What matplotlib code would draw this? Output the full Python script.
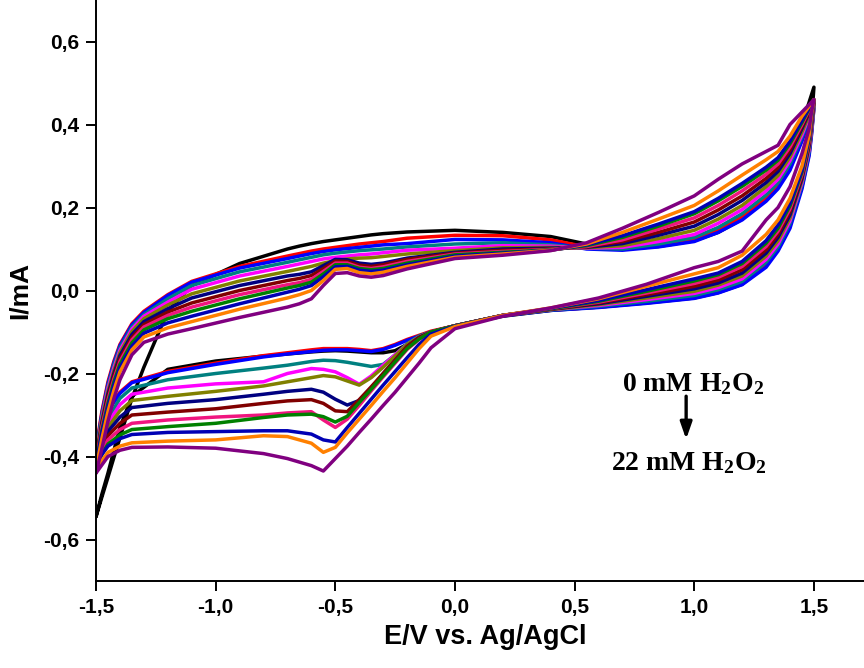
import matplotlib
matplotlib.use("Agg")
import matplotlib.pyplot as plt
from matplotlib.ticker import FixedLocator, FixedFormatter

plt.rcParams['mathtext.fontset'] = 'custom'
plt.rcParams['mathtext.rm'] = 'Liberation Serif:bold'
plt.rcParams['mathtext.it'] = 'Liberation Serif:bold'
plt.rcParams['mathtext.bf'] = 'Liberation Serif:bold'

# Potential grids (V) for the forward (anodic) and reverse (cathodic) sweeps
E_fwd = [-1.5, -1.475, -1.45, -1.425, -1.4, -1.35, -1.3, -1.2, -1.1, -0.9,
         -0.7, -0.65, -0.6, -0.55, -0.5, -0.45, -0.4, -0.35, -0.3, -0.2,
         0.0, 0.2, 0.4, 0.55, 0.7, 0.85, 1.0, 1.1, 1.2, 1.3,
         1.35, 1.4, 1.45, 1.5]
E_rev = [1.5, 1.49, 1.48, 1.45, 1.4, 1.35, 1.3, 1.2, 1.1, 1.0,
         0.8, 0.6, 0.4, 0.2, 0.0, -0.1, -0.15, -0.2, -0.25, -0.3,
         -0.35, -0.4, -0.45, -0.5, -0.55, -0.6, -0.7, -0.8, -1.0, -1.2,
         -1.35, -1.4, -1.45, -1.475, -1.5]

# Currents (mA), 0 mM ... 22 mM H2O2
black_fwd = [-0.545, -0.497, -0.45, -0.402, -0.355, -0.26, -0.185, -0.05, 0.012, 0.065,
             0.1, 0.107, 0.113, 0.118, 0.122, 0.126, 0.13, 0.134, 0.137, 0.141,
             0.145, 0.14, 0.13, 0.112, 0.1, 0.106, 0.12, 0.14, 0.172, 0.225,
             0.265, 0.32, 0.4, 0.49]
black_rev = [0.49, 0.41, 0.35, 0.26, 0.165, 0.1, 0.06, 0.015, -0.005, -0.018,
             -0.03, -0.04, -0.048, -0.062, -0.085, -0.1, -0.11, -0.13, -0.145, -0.15,
             -0.15, -0.148, -0.146, -0.145, -0.146, -0.148, -0.153, -0.158, -0.17, -0.19,
             -0.255, -0.33, -0.44, -0.49, -0.545]

red_fwd = [-0.38, -0.29, -0.22, -0.17, -0.13, -0.08, -0.05, -0.01, 0.022, 0.058,
           0.083, 0.089, 0.095, 0.1, 0.104, 0.108, 0.112, 0.115, 0.118, 0.126,
           0.133, 0.132, 0.122, 0.105, 0.1, 0.108, 0.122, 0.145, 0.177, 0.222,
           0.252, 0.297, 0.365, 0.44]
red_rev = [0.44, 0.38, 0.33, 0.25, 0.158, 0.1, 0.062, 0.017, -0.003, -0.016,
           -0.029, -0.04, -0.047, -0.06, -0.085, -0.098, -0.108, -0.118, -0.13, -0.14,
           -0.145, -0.142, -0.14, -0.14, -0.14, -0.143, -0.15, -0.157, -0.175, -0.195,
           -0.22, -0.245, -0.29, -0.33, -0.38]

blue_fwd = [-0.39, -0.295, -0.225, -0.174, -0.133, -0.083, -0.053, -0.012, 0.02, 0.054,
            0.077, 0.083, 0.089, 0.094, 0.098, 0.101, 0.104, 0.107, 0.11, 0.113,
            0.123, 0.122, 0.115, 0.1, 0.097, 0.105, 0.118, 0.14, 0.17, 0.215,
            0.245, 0.29, 0.36, 0.44]
blue_rev = [0.44, 0.375, 0.325, 0.245, 0.15, 0.095, 0.056, 0.014, -0.006, -0.019,
            -0.031, -0.041, -0.048, -0.061, -0.086, -0.1, -0.11, -0.12, -0.132, -0.142,
            -0.147, -0.145, -0.143, -0.143, -0.144, -0.147, -0.153, -0.16, -0.178, -0.198,
            -0.222, -0.248, -0.29, -0.335, -0.39]

teal_fwd = [-0.39, -0.3, -0.23, -0.179, -0.138, -0.088, -0.058, -0.02, 0.012, 0.045,
            0.068, 0.074, 0.08, 0.086, 0.09, 0.093, 0.096, 0.098, 0.1, 0.105,
            0.112, 0.115, 0.11, 0.102, 0.1, 0.112, 0.128, 0.152, 0.185, 0.23,
            0.26, 0.305, 0.37, 0.445]
teal_rev = [0.445, 0.385, 0.335, 0.255, 0.162, 0.105, 0.068, 0.022, 0.002, -0.012,
            -0.026, -0.038, -0.047, -0.06, -0.085, -0.1, -0.11, -0.128, -0.155, -0.178,
            -0.183, -0.178, -0.173, -0.169, -0.168, -0.171, -0.18, -0.187, -0.2, -0.215,
            -0.235, -0.26, -0.31, -0.35, -0.39]

magenta_fwd = [-0.40, -0.306, -0.236, -0.186, -0.144, -0.093, -0.062, -0.028, 0.003, 0.035,
               0.058, 0.064, 0.07, 0.076, 0.08, 0.083, 0.086, 0.088, 0.091, 0.097,
               0.102, 0.108, 0.107, 0.102, 0.104, 0.118, 0.135, 0.162, 0.195, 0.24,
               0.268, 0.313, 0.375, 0.45]
magenta_rev = [0.45, 0.39, 0.34, 0.26, 0.168, 0.112, 0.075, 0.028, 0.007, -0.007,
               -0.022, -0.036, -0.046, -0.06, -0.085, -0.1, -0.112, -0.13, -0.155, -0.18,
               -0.206, -0.226, -0.21, -0.196, -0.19, -0.188, -0.2, -0.22, -0.225, -0.235,
               -0.25, -0.275, -0.32, -0.36, -0.40]

olive_fwd = [-0.40, -0.31, -0.243, -0.193, -0.15, -0.099, -0.068, -0.035, -0.008, 0.023,
             0.046, 0.052, 0.058, 0.066, 0.072, 0.076, 0.078, 0.079, 0.082, 0.088,
             0.096, 0.103, 0.104, 0.103, 0.108, 0.125, 0.145, 0.172, 0.205, 0.25,
             0.277, 0.322, 0.382, 0.45]
olive_rev = [0.45, 0.395, 0.345, 0.265, 0.175, 0.12, 0.083, 0.035, 0.013, -0.002,
             -0.018, -0.034, -0.046, -0.06, -0.085, -0.1, -0.112, -0.13, -0.158, -0.185,
             -0.21, -0.228, -0.218, -0.208, -0.205, -0.21, -0.22, -0.23, -0.243, -0.255,
             -0.265, -0.29, -0.33, -0.365, -0.40]

navy_fwd = [-0.41, -0.318, -0.25, -0.2, -0.157, -0.106, -0.075, -0.044, -0.018, 0.012,
            0.035, 0.039, 0.045, 0.06, 0.075, 0.074, 0.066, 0.063, 0.066, 0.078,
            0.092, 0.1, 0.102, 0.104, 0.113, 0.133, 0.155, 0.183, 0.217, 0.26,
            0.287, 0.33, 0.39, 0.455]
navy_rev = [0.455, 0.4, 0.35, 0.27, 0.182, 0.128, 0.09, 0.042, 0.018, 0.004,
            -0.014, -0.032, -0.045, -0.06, -0.085, -0.1, -0.113, -0.135, -0.168, -0.2,
            -0.235, -0.265, -0.276, -0.262, -0.245, -0.238, -0.243, -0.25, -0.263, -0.272,
            -0.282, -0.305, -0.34, -0.375, -0.41]

darkred_fwd = [-0.41, -0.322, -0.257, -0.206, -0.164, -0.113, -0.082, -0.052, -0.03, 0.0,
               0.024, 0.029, 0.036, 0.053, 0.071, 0.07, 0.061, 0.058, 0.062, 0.075,
               0.09, 0.097, 0.1, 0.105, 0.118, 0.14, 0.165, 0.194, 0.228, 0.27,
               0.296, 0.338, 0.395, 0.455]
darkred_rev = [0.455, 0.405, 0.355, 0.275, 0.19, 0.135, 0.098, 0.05, 0.025, 0.01,
               -0.01, -0.03, -0.045, -0.06, -0.085, -0.1, -0.114, -0.135, -0.168, -0.2,
               -0.232, -0.263, -0.292, -0.29, -0.272, -0.263, -0.266, -0.272, -0.285, -0.293,
               -0.30, -0.32, -0.35, -0.38, -0.41]

pink_fwd = [-0.415, -0.328, -0.264, -0.213, -0.171, -0.119, -0.088, -0.06, -0.04, -0.01,
            0.014, 0.019, 0.027, 0.046, 0.066, 0.066, 0.056, 0.053, 0.057, 0.07,
            0.088, 0.094, 0.099, 0.106, 0.122, 0.148, 0.175, 0.205, 0.24, 0.28,
            0.305, 0.346, 0.4, 0.46]
pink_rev = [0.46, 0.41, 0.36, 0.28, 0.197, 0.143, 0.106, 0.058, 0.032, 0.017,
            -0.006, -0.028, -0.044, -0.06, -0.085, -0.1, -0.118, -0.142, -0.175, -0.208,
            -0.242, -0.277, -0.31, -0.33, -0.312, -0.292, -0.295, -0.30, -0.305, -0.312,
            -0.32, -0.335, -0.36, -0.385, -0.415]

green_fwd = [-0.42, -0.336, -0.272, -0.22, -0.178, -0.126, -0.095, -0.068, -0.05, -0.02,
             0.006, 0.012, 0.02, 0.04, 0.062, 0.062, 0.053, 0.05, 0.053, 0.066,
             0.086, 0.092, 0.098, 0.108, 0.128, 0.155, 0.185, 0.216, 0.251, 0.29,
             0.314, 0.354, 0.405, 0.46]
green_rev = [0.46, 0.415, 0.365, 0.285, 0.204, 0.15, 0.114, 0.065, 0.038, 0.023,
             -0.002, -0.026, -0.044, -0.06, -0.085, -0.1, -0.117, -0.14, -0.172, -0.205,
             -0.238, -0.27, -0.303, -0.317, -0.304, -0.298, -0.30, -0.306, -0.32, -0.328,
             -0.335, -0.348, -0.37, -0.395, -0.42]

mblue_fwd = [-0.42, -0.342, -0.28, -0.228, -0.186, -0.134, -0.103, -0.078, -0.062, -0.032,
             -0.004, 0.003, 0.012, 0.033, 0.057, 0.058, 0.049, 0.046, 0.049, 0.062,
             0.083, 0.09, 0.097, 0.11, 0.132, 0.16, 0.19, 0.222, 0.258, 0.297,
             0.32, 0.36, 0.41, 0.46]
mblue_rev = [0.46, 0.42, 0.37, 0.29, 0.21, 0.158, 0.12, 0.07, 0.042, 0.028,
             0.002, -0.024, -0.043, -0.06, -0.086, -0.105, -0.13, -0.162, -0.195, -0.228,
             -0.262, -0.296, -0.33, -0.365, -0.36, -0.346, -0.338, -0.338, -0.34, -0.342,
             -0.347, -0.357, -0.375, -0.395, -0.42]

orange_fwd = [-0.43, -0.356, -0.292, -0.24, -0.196, -0.143, -0.112, -0.09, -0.075, -0.045,
              -0.018, -0.01, 0.0, 0.024, 0.051, 0.053, 0.043, 0.04, 0.044, 0.058,
              0.08, 0.088, 0.097, 0.112, 0.14, 0.172, 0.205, 0.24, 0.278, 0.315,
              0.335, 0.372, 0.42, 0.46]
orange_rev = [0.46, 0.425, 0.375, 0.3, 0.222, 0.17, 0.135, 0.085, 0.055, 0.04,
              0.01, -0.02, -0.042, -0.06, -0.087, -0.11, -0.14, -0.175, -0.21, -0.243,
              -0.277, -0.31, -0.343, -0.378, -0.39, -0.368, -0.352, -0.35, -0.36, -0.363,
              -0.367, -0.375, -0.39, -0.41, -0.43]

purple_fwd = [-0.44, -0.38, -0.315, -0.26, -0.215, -0.155, -0.125, -0.105, -0.092, -0.065,
              -0.04, -0.032, -0.02, 0.012, 0.041, 0.043, 0.035, 0.032, 0.036, 0.052,
              0.077, 0.085, 0.096, 0.115, 0.15, 0.188, 0.228, 0.268, 0.305, 0.335,
              0.35, 0.40, 0.43, 0.46]
purple_rev = [0.46, 0.43, 0.39, 0.33, 0.25, 0.2, 0.17, 0.095, 0.07, 0.055,
              0.015, -0.018, -0.042, -0.062, -0.092, -0.138, -0.175, -0.21, -0.245, -0.277,
              -0.31, -0.342, -0.375, -0.405, -0.435, -0.422, -0.405, -0.393, -0.38, -0.377,
              -0.378, -0.385, -0.40, -0.42, -0.44]

curves_fwd = [black_fwd, red_fwd, blue_fwd, teal_fwd, magenta_fwd, olive_fwd, navy_fwd, darkred_fwd,
              pink_fwd, green_fwd, mblue_fwd, orange_fwd, purple_fwd]
curves_rev = [black_rev, red_rev, blue_rev, teal_rev, magenta_rev, olive_rev, navy_rev, darkred_rev,
              pink_rev, green_rev, mblue_rev, orange_rev, purple_rev]
colors = ['#000000', '#FF0000', '#0000FF', '#008080', '#FF00FF', '#808000', '#000080', '#800000',
          '#F0157F', '#008000', '#0000B4', '#FF8000', '#800080']

xticks = [-1.5, -1.0, -0.5, 0.0, 0.5, 1.0, 1.5]
xticklabels = ['-1,5', '-1,0', '-0,5', '0,0', '0,5', '1,0', '1,5']
yticks = [-0.6, -0.4, -0.2, 0.0, 0.2, 0.4, 0.6]
yticklabels = ['-0,6', '-0,4', '-0,2', '0,0', '0,2', '0,4', '0,6']

fig = plt.figure(figsize=(8.64, 6.68), dpi=100)
ax = fig.add_axes([96/864, 87/668, 778/864, 581/668])

for f, r, c in zip(curves_fwd, curves_rev, colors):
    ax.plot(E_fwd + E_rev, f + r, color=c, lw=2.5, solid_joinstyle='round', solid_capstyle='round')

ax.set_xlim(-1.5, 1.751)
ax.set_ylim(-0.7, 0.7)
ax.spines['top'].set_visible(False)
ax.spines['right'].set_visible(False)
ax.spines['left'].set_linewidth(1.4)
ax.spines['bottom'].set_linewidth(1.4)

sans = ['Liberation Sans', 'DejaVu Sans']
ax.xaxis.set_major_locator(FixedLocator(xticks))
ax.xaxis.set_major_formatter(FixedFormatter(xticklabels))
ax.yaxis.set_major_locator(FixedLocator(yticks))
ax.yaxis.set_major_formatter(FixedFormatter(yticklabels))
ax.tick_params(direction='out', length=7, width=1.4, pad=5)
for lab in ax.get_xticklabels() + ax.get_yticklabels():
    lab.set_fontfamily(sans)
    lab.set_fontweight('bold')
    lab.set_fontsize(15)

ax.set_xlabel('E/V vs. Ag/AgCl', family=sans, weight='bold', size=19.5, labelpad=5)
ax.set_ylabel('I/mA', family=sans, weight='bold', size=19, labelpad=8)

serif = ['Liberation Serif', 'DejaVu Serif']
ax.text(0.995, -0.225, r'0 mM H$_2$O$_2$', family=serif, weight='bold', size=20,
        ha='center', va='center')
ax.annotate('', xy=(0.966, -0.365), xytext=(0.966, -0.248),
            arrowprops=dict(arrowstyle='-|>,head_width=0.35,head_length=1.0', color='black', lw=2.4))
ax.text(0.978, -0.415, r'22 mM H$_2$O$_2$', family=serif, weight='bold', size=20,
        ha='center', va='center')

fig.savefig('out.png', dpi=100)
